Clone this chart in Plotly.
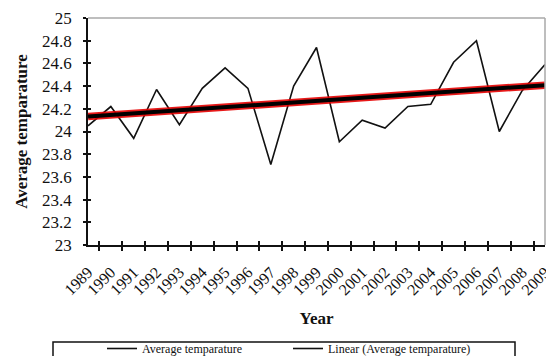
import numpy as np
import plotly.graph_objects as go

years = [str(y) for y in range(1989, 2010)]
avg_temp = [24.05, 24.22, 23.94, 24.37, 24.06, 24.38, 24.56, 24.38, 23.71, 24.40,
            24.74, 23.91, 24.10, 24.03, 24.22, 24.24, 24.61, 24.80, 24.00, 24.36, 24.59]
y_ticks = [23, 23.2, 23.4, 23.6, 23.8, 24, 24.2, 24.4, 24.6, 24.8, 25]

# Linear trend (least squares) of the series
idx = np.arange(len(avg_temp))
slope, intercept = np.polyfit(idx, avg_temp, 1)
trend = list(intercept + slope * idx)

FONT = "Liberation Serif, Times New Roman, serif"

# page has an 8px body margin and ~8px of the right edge is not visible
OFF = 8
PL, PR, PT, PB = 88, 545, 18, 245          # plot area in page pixels
W, H = 554 - OFF, 356 - OFF
PW, PH = PR - PL, PB - PT


def px(xp):
    return (xp - PL) / PW


def py(yp):
    return (PB - yp) / PH


fig = go.Figure()
fig.add_trace(go.Scatter(x=years, y=avg_temp, mode="lines", name="Average temparature",
                         line=dict(color="#111111", width=1.6)))
fig.add_trace(go.Scatter(x=years, y=trend, mode="lines", showlegend=False, hoverinfo="skip",
                         legendgroup="trend",
                         line=dict(color="rgba(230,0,0,0.9)", width=7.5)))
fig.add_trace(go.Scatter(x=years, y=trend, mode="lines", showlegend=False,
                         legendgroup="trend", name="Linear (Average temparature)",
                         line=dict(color="#000000", width=4)))
# legend entry for the trend line (drawn thin, as in the reference legend)
fig.add_trace(go.Scatter(x=[years[0]], y=[None], mode="lines", legendgroup="trend",
                         name="Linear (Average temparature)",
                         line=dict(color="#111111", width=1.6), hoverinfo="skip"))
fig.add_trace(go.Scatter(x=years, y=avg_temp, xaxis="x2", yaxis="y2", mode="lines",
                         line=dict(width=0, color="rgba(0,0,0,0)"), showlegend=False,
                         hoverinfo="skip"))

fig.update_layout(
    width=W, height=H,
    margin=dict(l=PL - OFF, r=W - (PR - OFF), t=PT - OFF, b=H - (PB - OFF), autoexpand=False),
    paper_bgcolor="white", plot_bgcolor="white",
    font=dict(family=FONT, color="#111111"),
    showlegend=True,
    xaxis=dict(type="category", categoryorder="array", categoryarray=years,
               tickson="boundaries", ticks="outside", ticklen=4, tickwidth=1.5,
               tickcolor="#111", showline=True, linecolor="#111", linewidth=1.5,
               showgrid=False, tickangle=-45, tickfont=dict(size=16, family=FONT),
               ticklabelstandoff=10,
               title=dict(text="<b>Year</b>", font=dict(size=17, family=FONT), standoff=15)),
    xaxis2=dict(type="category", categoryorder="array", categoryarray=years,
                overlaying="x", side="bottom", tickson="boundaries", ticks="inside",
                ticklen=4, tickwidth=1.5, tickcolor="#111", showticklabels=False,
                showgrid=False, showline=False),
    yaxis=dict(range=[23, 25], tickvals=y_ticks, ticks="outside", ticklen=3, tickwidth=1.5,
               tickcolor="#111", showline=True, linecolor="#111", linewidth=1.5,
               showgrid=False, zeroline=False, tickfont=dict(size=17, family=FONT),
               ticklabelstandoff=8,
               title=dict(text="<b>Average temparature</b>", font=dict(size=17, family=FONT),
                          standoff=10)),
    yaxis2=dict(range=[23, 25], tickvals=y_ticks, overlaying="y", side="left",
                ticks="inside", ticklen=3, tickwidth=1.5, tickcolor="#111",
                showticklabels=False, showgrid=False, zeroline=False, showline=False),
    legend=dict(orientation="h", x=px(102), xanchor="left",
                y=py(334), yanchor="top",
                bgcolor="rgba(0,0,0,0)", borderwidth=0,
                font=dict(size=12, family=FONT), entrywidth=141, entrywidthmode="pixels",
                tracegroupgap=0),
    shapes=[
        dict(type="line", xref="paper", yref="paper", x0=0, x1=1, y0=1, y1=1,
             line=dict(color="#a8a8a8", width=1.5)),
        dict(type="line", xref="paper", yref="paper", x0=1, x1=1, y0=0, y1=1,
             line=dict(color="#a8a8a8", width=1.5)),
        dict(type="rect", xref="paper", yref="paper",
             x0=px(53), x1=px(515), y0=py(362), y1=py(342),
             line=dict(color="#111", width=1.5)),
    ],
)

fig.write_html("out.html")
